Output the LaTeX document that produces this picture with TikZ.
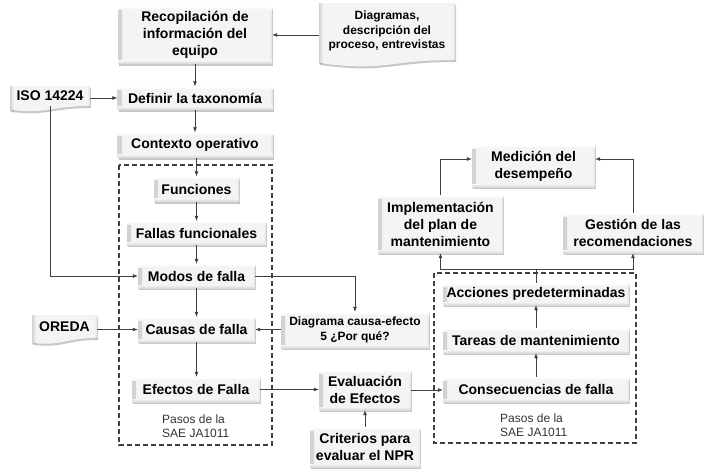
\documentclass[tikz,border=0pt]{standalone}
\usepackage{fontspec}
\setmainfont{Liberation Sans}
\usetikzlibrary{arrows.meta,shadows,calc}
\definecolor{boxface}{gray}{0.955}
\definecolor{lncol}{gray}{0.25}
\tikzset{
 bx/.style={fill=boxface, inner sep=0pt, align=center,
  font=\bfseries\fontsize{14}{17}\selectfont,
  drop shadow={shadow xshift=1pt, shadow yshift=-2pt, opacity=0.22, fill=black},
  path picture={
   \fill[left color=gray!35, right color=boxface] (path picture bounding box.south west) rectangle ([xshift=4pt]path picture bounding box.north west);
   \fill[left color=boxface, right color=gray!22] ([xshift=-3pt]path picture bounding box.south east) rectangle (path picture bounding box.north east);
   \fill[top color=boxface, bottom color=gray!30] ([yshift=3pt]path picture bounding box.south west) rectangle (path picture bounding box.south east);
   \fill[top color=white, bottom color=boxface] (path picture bounding box.north west) rectangle ([yshift=-3pt]path picture bounding box.north east);}},
 txt/.style={align=center, inner sep=0pt, font=\bfseries\fontsize{14}{17}\selectfont},
 sm/.style={font=\bfseries\fontsize{12}{14.5}\selectfont},
 arr/.style={draw=lncol, line width=0.7pt, -{Latex[length=5pt,width=4pt]}},
 plain/.style={draw=lncol, line width=0.7pt},
 dbox/.style={draw=lncol, dash pattern=on 5pt off 3pt, line width=1.1pt},
 pasos/.style={align=left, inner sep=0pt, font=\fontsize{12}{14}\selectfont, text=black!80, anchor=west},
 docsh/.style={fill=boxface, drop shadow={shadow xshift=1pt, shadow yshift=-2pt, opacity=0.22, fill=black}},
}
\newcommand\docbg[6]{%
 \path[docsh] (#1,#2) -- (#3,#2) -- (#3,#4) .. controls ({(#1+#3)/2},#4) and ({(#1+#3)/2},{#4+#6}) .. (#1,{#4+#5}) -- cycle;
 \begin{scope}
 \clip (#1,#2) -- (#3,#2) -- (#3,#4) .. controls ({(#1+#3)/2},#4) and ({(#1+#3)/2},{#4+#6}) .. (#1,{#4+#5}) -- cycle;
 \fill[left color=gray!35,right color=boxface] (#1,#2) rectangle ({#1+4},{#4+#6});
 \fill[left color=boxface,right color=gray!22] ({#3-3},#2) rectangle (#3,{#4+#6});
 \end{scope}}
\begin{document}
\begin{tikzpicture}[x=1pt,y=-1pt]
\useasboundingbox (0,0) rectangle (710,474);
\fill[white] (0,0) rectangle (710,474);
% dashed groups
\draw[dbox] (119,165) rectangle (272,445);
\draw[dbox] (434,273) rectangle (636,443);
% document shapes
\docbg{319}{3}{455}{60}{3}{12}
\docbg{10}{86}{90}{106}{4}{8}
\docbg{32}{315}{97}{338}{5}{8}
\node[txt, sm, minimum width=136pt, minimum height=57pt] (diag) at (387,31) {Diagramas,\\descripción del\\proceso, entrevistas};
\node[txt, minimum width=80pt, minimum height=20pt] (iso) at (50,96) {ISO 14224};
\node[txt, minimum width=65pt, minimum height=23pt] (ore) at (64.5,326.5) {OREDA};
% boxes
\node[bx, minimum width=154pt, minimum height=57pt] (rec) at (195,35) {Recopilación de\\información del\\equipo};
\node[bx, minimum width=155pt, minimum height=23pt] (def) at (195,98) {Definir la taxonomía};
\node[bx, minimum width=155pt, minimum height=25pt] (ctx) at (195,145) {Contexto operativo};
\node[bx, minimum width=85pt, minimum height=25pt] (fun) at (196.5,189) {Funciones};
\node[bx, minimum width=139pt, minimum height=24pt] (fal) at (196.5,233) {Fallas funcionales};
\node[bx, minimum width=117pt, minimum height=24pt] (mod) at (196.5,276) {Modos de falla};
\node[bx, minimum width=117pt, minimum height=25pt] (cau) at (196.5,329.5) {Causas de falla};
\node[bx, sm, minimum width=148pt, minimum height=36pt] (dce) at (355,330) {Diagrama causa-efecto\\5 ¿Por qué?};
\node[bx, minimum width=128pt, minimum height=25pt] (efe) at (196,389.5) {Efectos de Falla};
\node[bx, minimum width=92pt, minimum height=40pt] (eva) at (365,390) {Evaluación\\de Efectos};
\node[bx, minimum width=110pt, minimum height=40pt] (cri) at (365,447) {Criterios para\\evaluar el NPR};
\node[bx, minimum width=123pt, minimum height=42pt] (med) at (533.5,166) {Medición del\\desempeño};
\node[bx, minimum width=125pt, minimum height=58pt] (imp) at (440.5,224) {Implementación\\del plan de\\mantenimiento};
\node[bx, minimum width=140pt, minimum height=40pt] (ges) at (633,233) {Gestión de las\\recomendaciones};
\node[bx, minimum width=186pt, minimum height=22pt] (acc) at (536,294) {Acciones predeterminadas};
\node[bx, minimum width=186pt, minimum height=25pt] (tar) at (536,340.5) {Tareas de mantenimiento};
\node[bx, minimum width=186pt, minimum height=25pt] (con) at (536,389.5) {Consecuencias de falla};
\node[pasos] (pl) at (162,426) {Pasos de la\\SAE JA1011};
\node[pasos] (pr) at (500,425) {Pasos de la\\SAE JA1011};
% connectors
\draw[arr] (rec.east -| diag.west) -- (rec.east);
\draw[arr] (rec.south) -- (def.north);
\draw[arr] (iso.east |- def.west) -- (def.west);
\draw[arr] (def.south) -- (ctx.north);
\draw[arr] (ctx.south -| fun.north) -- (fun.north);
\draw[arr] (fun.south) -- (fal.north);
\draw[arr] (fal.south) -- (mod.north);
\draw[arr] (mod.south) -- (cau.north);
\draw[arr] (cau.south) -- (cau.south |- efe.north);
\draw[arr] (iso.south) |- (mod.west);
\draw[arr] (mod.east) -| (dce.north);
\draw[arr] (dce.west |- cau.east) -- (cau.east);
\draw[arr] (ore.east |- cau.west) -- (cau.west);
\draw[arr] (efe.east) -- (efe.east -| eva.west);
\draw[arr] (cri.north) -- (eva.south);
\draw[arr] (eva.east) -- (eva.east -| con.west);
\draw[arr] (con.north) -- (tar.south);
\draw[arr] (tar.north) -- (acc.south);
\coordinate (j) at (536,269);
\draw[plain] (acc.north) -- (j);
\draw[arr] (j) -| (imp.south);
\draw[arr] (j) -| (ges.south);
\coordinate (mt) at (533,159);
\draw[arr] (imp.north) |- (mt -| med.west);
\draw[arr] (ges.north) |- (mt -| med.east);
\end{tikzpicture}
\end{document}
